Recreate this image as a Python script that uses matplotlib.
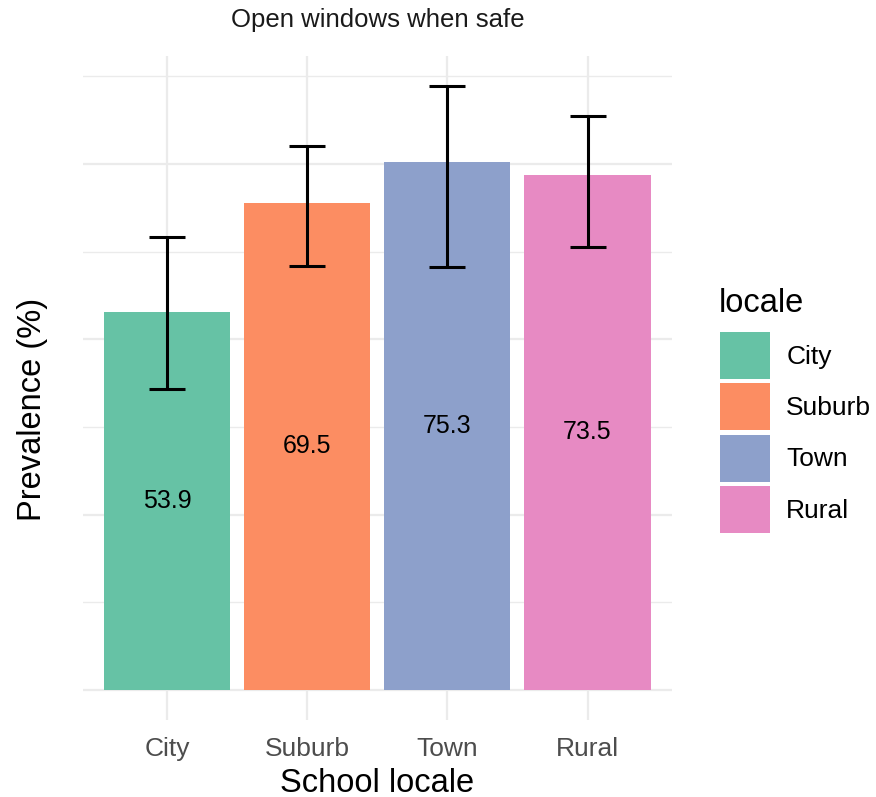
import matplotlib.pyplot as plt
from matplotlib.patches import Patch
from matplotlib.ticker import MultipleLocator

plt.rcParams['font.family'] = ['Liberation Sans', 'DejaVu Sans']

locales = ["City", "Suburb", "Town", "Rural"]
prevalence = [53.9, 69.5, 75.3, 73.5]
ci_low = [42.9, 60.4, 60.3, 63.1]
ci_high = [64.6, 77.6, 86.1, 81.9]
colors = ["#66C2A5", "#FC8D62", "#8DA0CB", "#E78AC3"]

fig = plt.figure(figsize=(8.76, 7.97), dpi=100)
ax = fig.add_axes([0.0947, 0.0966, 0.672, 0.833])

x = list(range(1, len(locales) + 1))
ax.bar(x, prevalence, width=0.9, color=colors, zorder=2)
err = [[p - lo for p, lo in zip(prevalence, ci_low)],
       [hi - p for p, hi in zip(prevalence, ci_high)]]
ax.errorbar(x, prevalence, yerr=err, fmt="none", ecolor="black",
            elinewidth=2.2, capsize=13, capthick=2.2, zorder=3)
for xi, p in zip(x, prevalence):
    ax.text(xi, p / 2, f"{p:.1f}", ha="center", va="center",
            fontsize=18, color="black", zorder=4)

ax.set_xlim(0.4, 4.6)
ax.set_ylim(-4.3, 90.4)
ax.set_xticks(x)
ax.set_xticklabels(locales, fontsize=19, color="#4D4D4D")
ax.yaxis.set_major_locator(MultipleLocator(25))
ax.yaxis.set_minor_locator(MultipleLocator(12.5))
ax.set_yticklabels([])
ax.tick_params(axis="both", which="both", length=0)
ax.tick_params(axis="x", pad=12)

ax.grid(True, which="major", color="#EBEBEB", linewidth=1.6, zorder=0)
ax.grid(True, which="minor", axis="y", color="#EBEBEB", linewidth=1.0, zorder=0)
ax.set_axisbelow(True)
for s in ax.spines.values():
    s.set_visible(False)

ax.set_xlabel("School locale", fontsize=23.5, labelpad=5)
ax.set_ylabel("Prevalence (%)", fontsize=23.5, labelpad=22)
ax.yaxis.label.set_y(0.468)
fig.text(0.431, 1 - 27 / 797, "Open windows when safe", ha="center",
         va="baseline", fontsize=18.5, color="#1A1A1A")

# legend: keys and labels, title placed separately
handles = [Patch(facecolor=c, edgecolor="none") for c in colors]
fig.legend(handles, locales, loc="upper left",
           bbox_to_anchor=(720 / 876, 1 - 332 / 797), frameon=False,
           borderpad=0, borderaxespad=0,
           fontsize=19, handlelength=1.9, handleheight=2.36,
           handletextpad=0.61, labelspacing=0.17)
fig.text(719 / 876, 1 - 312 / 797, "locale", ha="left", va="baseline",
         fontsize=23.5)

fig.savefig("out.png", dpi=100)
